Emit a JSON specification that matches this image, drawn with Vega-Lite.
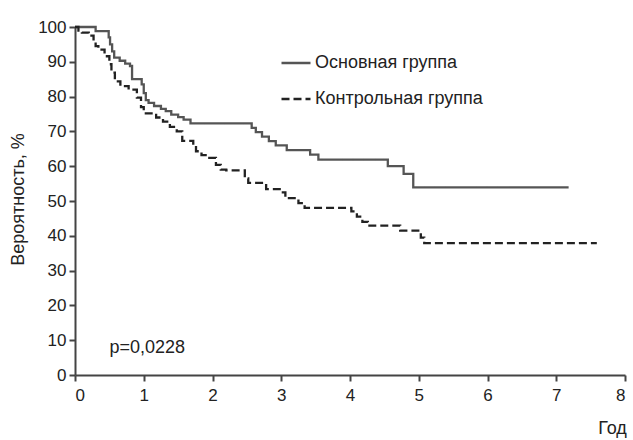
{
  "$schema": "https://vega.github.io/schema/vega-lite/v6.json",
  "width": 550,
  "height": 348,
  "autosize": {"type": "none"},
  "padding": {"left": 75, "top": 27, "right": 8, "bottom": 65},
  "background": "white",
  "config": {
    "view": {"stroke": null},
    "font": "Liberation Sans",
    "axis": {
      "grid": false,
      "domainColor": "#444",
      "domainWidth": 2,
      "tickColor": "#444",
      "tickWidth": 2,
      "tickSize": 6,
      "labelFontSize": 17,
      "labelColor": "#222",
      "labelOverlap": false,
      "titleFontSize": 18,
      "titleFontWeight": "normal",
      "titleColor": "#222"
    },
    "legend": {
      "orient": "none",
      "legendX": 205,
      "legendY": 20,
      "symbolType": "stroke",
      "symbolSize": 841,
      "symbolStrokeWidth": 2.5,
      "labelFontSize": 18,
      "labelColor": "#222",
      "labelLimit": 400,
      "labelOffset": 3,
      "rowPadding": 11,
      "padding": 0
    }
  },
  "datasets": {
    "km": [
      {"t": 0, "s": 100, "g": "Основная группа"},
      {"t": 0.3, "s": 98.8, "g": "Основная группа"},
      {"t": 0.49, "s": 97, "g": "Основная группа"},
      {"t": 0.51, "s": 95, "g": "Основная группа"},
      {"t": 0.54, "s": 93, "g": "Основная группа"},
      {"t": 0.57, "s": 91.2, "g": "Основная группа"},
      {"t": 0.65, "s": 90.3, "g": "Основная группа"},
      {"t": 0.73, "s": 89.5, "g": "Основная группа"},
      {"t": 0.8, "s": 88.8, "g": "Основная группа"},
      {"t": 0.83, "s": 85, "g": "Основная группа"},
      {"t": 0.97, "s": 83.5, "g": "Основная группа"},
      {"t": 1.0, "s": 81, "g": "Основная группа"},
      {"t": 1.03, "s": 79, "g": "Основная группа"},
      {"t": 1.07, "s": 78.2, "g": "Основная группа"},
      {"t": 1.15, "s": 77.3, "g": "Основная группа"},
      {"t": 1.25, "s": 76.5, "g": "Основная группа"},
      {"t": 1.32, "s": 75.8, "g": "Основная группа"},
      {"t": 1.4, "s": 74.8, "g": "Основная группа"},
      {"t": 1.5, "s": 74.1, "g": "Основная группа"},
      {"t": 1.58, "s": 73.4, "g": "Основная группа"},
      {"t": 1.68, "s": 72.3, "g": "Основная группа"},
      {"t": 2.57, "s": 71, "g": "Основная группа"},
      {"t": 2.63, "s": 69.8, "g": "Основная группа"},
      {"t": 2.72, "s": 68.5, "g": "Основная группа"},
      {"t": 2.82, "s": 67.2, "g": "Основная группа"},
      {"t": 2.92, "s": 66, "g": "Основная группа"},
      {"t": 3.08, "s": 64.6, "g": "Основная группа"},
      {"t": 3.42, "s": 63.3, "g": "Основная группа"},
      {"t": 3.54, "s": 61.9, "g": "Основная группа"},
      {"t": 4.55, "s": 60, "g": "Основная группа"},
      {"t": 4.78, "s": 57.8, "g": "Основная группа"},
      {"t": 4.92, "s": 53.9, "g": "Основная группа"},
      {"t": 7.18, "s": 53.9, "g": "Основная группа"},
      {"t": 0, "s": 100, "g": "Контрольная группа"},
      {"t": 0.05, "s": 99, "g": "Контрольная группа"},
      {"t": 0.1, "s": 98.4, "g": "Контрольная группа"},
      {"t": 0.2, "s": 97.5, "g": "Контрольная группа"},
      {"t": 0.27, "s": 96, "g": "Контрольная группа"},
      {"t": 0.3, "s": 94.5, "g": "Контрольная группа"},
      {"t": 0.34, "s": 93.5, "g": "Контрольная группа"},
      {"t": 0.43, "s": 91.6, "g": "Контрольная группа"},
      {"t": 0.5, "s": 89.3, "g": "Контрольная группа"},
      {"t": 0.53, "s": 86.9, "g": "Контрольная группа"},
      {"t": 0.58, "s": 84.4, "g": "Контрольная группа"},
      {"t": 0.66, "s": 83, "g": "Контрольная группа"},
      {"t": 0.78, "s": 82, "g": "Контрольная группа"},
      {"t": 0.9, "s": 79.7, "g": "Контрольная группа"},
      {"t": 0.96, "s": 77, "g": "Контрольная группа"},
      {"t": 1.0, "s": 75.2, "g": "Контрольная группа"},
      {"t": 1.18, "s": 74, "g": "Контрольная группа"},
      {"t": 1.28, "s": 72.8, "g": "Контрольная группа"},
      {"t": 1.38, "s": 71.3, "g": "Контрольная группа"},
      {"t": 1.48, "s": 70, "g": "Контрольная группа"},
      {"t": 1.56, "s": 67.3, "g": "Контрольная группа"},
      {"t": 1.72, "s": 66.5, "g": "Контрольная группа"},
      {"t": 1.76, "s": 64.3, "g": "Контрольная группа"},
      {"t": 1.84, "s": 63.2, "g": "Контрольная группа"},
      {"t": 1.9, "s": 62.4, "g": "Контрольная группа"},
      {"t": 2.05, "s": 60.4, "g": "Контрольная группа"},
      {"t": 2.12, "s": 59, "g": "Контрольная группа"},
      {"t": 2.2, "s": 58.8, "g": "Контрольная группа"},
      {"t": 2.47, "s": 56.5, "g": "Контрольная группа"},
      {"t": 2.52, "s": 55.2, "g": "Контрольная группа"},
      {"t": 2.78, "s": 53.4, "g": "Контрольная группа"},
      {"t": 3.0, "s": 52.5, "g": "Контрольная группа"},
      {"t": 3.06, "s": 50.8, "g": "Контрольная группа"},
      {"t": 3.25, "s": 49.4, "g": "Контрольная группа"},
      {"t": 3.34, "s": 48, "g": "Контрольная группа"},
      {"t": 4.02, "s": 47, "g": "Контрольная группа"},
      {"t": 4.1, "s": 45.5, "g": "Контрольная группа"},
      {"t": 4.18, "s": 44, "g": "Контрольная группа"},
      {"t": 4.26, "s": 42.9, "g": "Контрольная группа"},
      {"t": 4.73, "s": 41.5, "g": "Контрольная группа"},
      {"t": 5.03, "s": 39.5, "g": "Контрольная группа"},
      {"t": 5.08, "s": 37.9, "g": "Контрольная группа"},
      {"t": 7.59, "s": 37.9, "g": "Контрольная группа"}
    ],
    "note": [{"t": 0.5, "s": 7.8, "label": "p=0,0228"}]
  },
  "layer": [
    {
      "data": {"name": "km"},
      "mark": {"type": "line", "interpolate": "step-after", "strokeWidth": 2.3},
      "encoding": {
        "x": {
          "field": "t", "type": "quantitative",
          "scale": {"domain": [0, 8], "nice": false},
          "axis": {"values": [0,1,2,3,4,5,6,7,8], "format": "d", "labelPadding": 6, "title": "Год",
                   "titleX": 537, "titleY": 53, "titleAlign": "center", "titleBaseline": "middle"}
        },
        "y": {
          "field": "s", "type": "quantitative",
          "scale": {"domain": [0, 100], "nice": false},
          "axis": {"values": [0,10,20,30,40,50,60,70,80,90,100], "format": "d", "labelPadding": 3,
                   "labelOverlap": false, "labelBound": false, "tickCount": 11,
                   "title": "Вероятность, %", "titleX": -57, "titleY": 172,
                   "titleAngle": 270, "titleAlign": "center", "titleBaseline": "middle"}
        },
        "color": {
          "field": "g", "type": "nominal",
          "scale": {"domain": ["Основная группа", "Контрольная группа"], "range": ["#555555", "#222222"]},
          "legend": {"title": null}
        },
        "strokeDash": {
          "field": "g", "type": "nominal",
          "scale": {"domain": ["Основная группа", "Контрольная группа"], "range": [[1, 0], [8, 4]]},
          "legend": {"title": null}
        }
      }
    },
    {
      "data": {"name": "note"},
      "mark": {"type": "text", "align": "left", "baseline": "middle", "fontSize": 18, "color": "#222"},
      "encoding": {
        "x": {"field": "t", "type": "quantitative"},
        "y": {"field": "s", "type": "quantitative"},
        "text": {"field": "label"}
      }
    }
  ]
}
